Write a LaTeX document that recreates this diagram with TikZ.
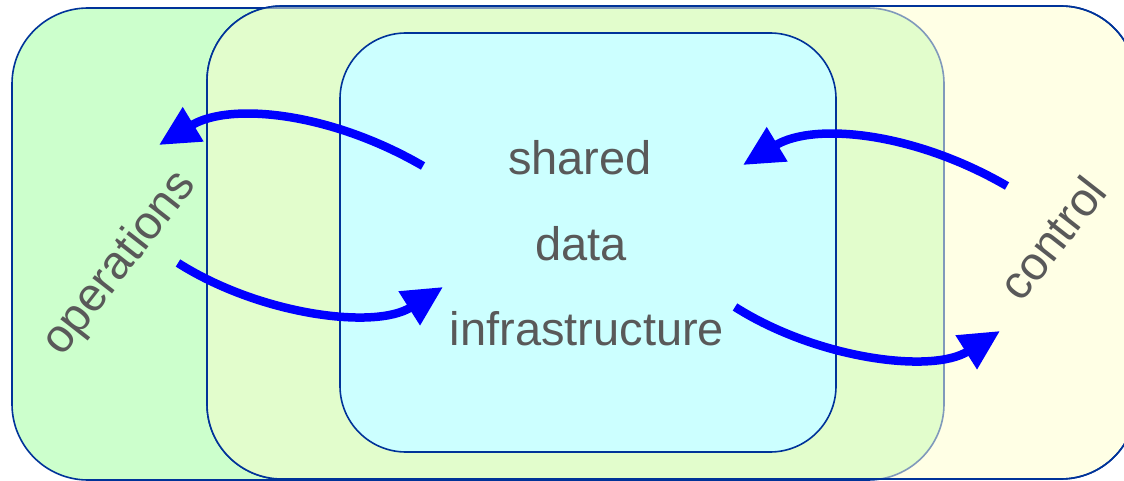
\documentclass[tikz,border=0pt]{standalone}
\usepackage{fontspec}
\setmainfont{Liberation Sans}
\usetikzlibrary{arrows.meta}

\definecolor{edgeblue}{HTML}{003399}
\definecolor{opsfill}{HTML}{CCFFCC}
\definecolor{ctlfill}{HTML}{FFFFE5}
\definecolor{mixfill}{HTML}{E2FDCC}
\definecolor{mixedge}{HTML}{8099BB}
\definecolor{corefill}{HTML}{CCFFFF}
\definecolor{labelgray}{HTML}{595959}
\definecolor{flowblue}{HTML}{0000FF}

\tikzset{
  region/.style={draw=edgeblue, line width=1.6pt},
  label/.style={text=labelgray, inner sep=0pt,
    font=\fontsize{47}{56}\selectfont},
  flow/.style={draw=flowblue, line width=8.5pt,
    -{Triangle[length=40pt,width=38pt]}},
}

\begin{document}
\begin{tikzpicture}[x=1pt,y=-1pt]
  \useasboundingbox (0,0) rectangle (1124,481);
  \clip (0,0) rectangle (1124,481);

  % operations region
  \path[region, fill=opsfill, rounded corners=76pt] (12,8) rectangle (944,480);
  % control region
  \path[region, fill=ctlfill, rounded corners=75pt] (207,6) rectangle (1136,479);
  % where the two regions overlap
  \begin{scope}
    \clip[rounded corners=75pt] (207,6) rectangle (1136,479);
    \path[fill=mixfill, draw=mixedge, line width=1.6pt, rounded corners=76pt]
      (12,8) rectangle (944,480);
  \end{scope}
  \path[region, rounded corners=75pt] (207,6) rectangle (1136,479);
  % shared core
  \path[region, fill=corefill, rounded corners=66pt] (340,33) rectangle (836,452);

  % labels
  \node[label, anchor=base] (shared) at (580,175) {shared};
  \node[label, anchor=base] (data) at (581,260) {data};
  \node[label, anchor=base] (infra) at (587,345) {infrastructure};
  \node[label, rotate=52] (ops) at (120,264) {operations};
  \node[label, rotate=52] (ctl) at (1052,238) {control};

  % flow end points
  \coordinate (coreToOps) at (423,166);
  \coordinate (opsIn) at (159,145);
  \coordinate (opsToCore) at (178,263);
  \coordinate (coreIn) at (443,287);
  \coordinate (ctlToCore) at (1007,186);
  \coordinate (coreInR) at (743,165);
  \coordinate (coreToCtl) at (735,307);
  \coordinate (ctlIn) at (1000,331);

  % flows
  \draw[flow] (coreToOps) .. controls (330,112) and (230,102) .. (opsIn);
  \draw[flow] (opsToCore) .. controls (260,315) and (375,330) .. (coreIn);
  \draw[flow] (ctlToCore) .. controls (914,132) and (814,122) .. (coreInR);
  \draw[flow] (coreToCtl) .. controls (817,359) and (932,374) .. (ctlIn);
\end{tikzpicture}
\end{document}
